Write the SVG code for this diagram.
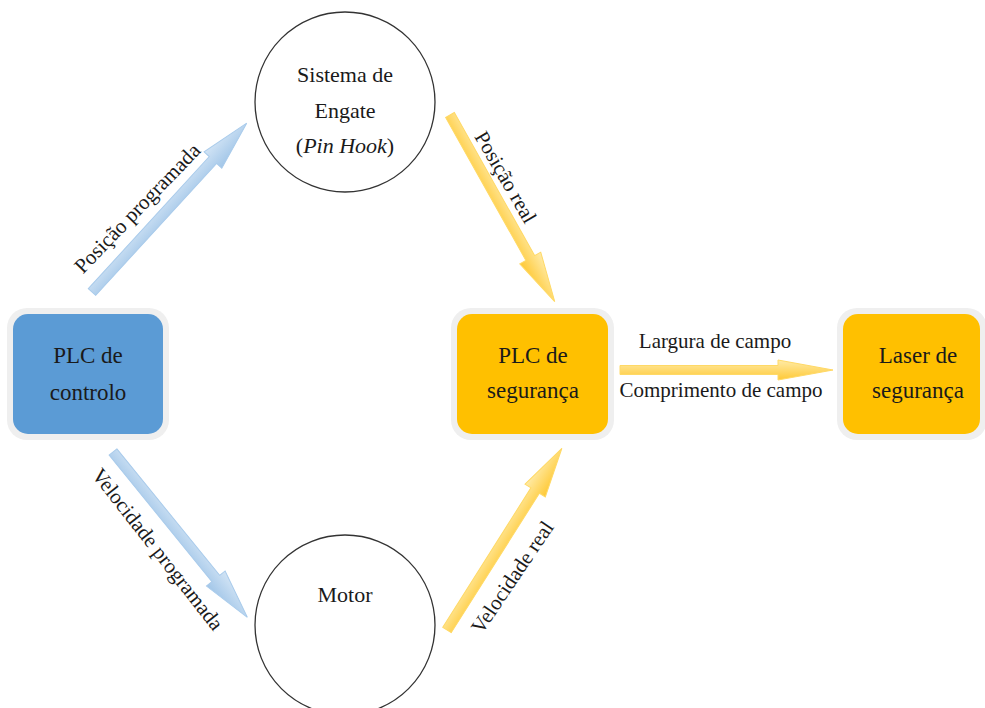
<svg xmlns="http://www.w3.org/2000/svg" width="985" height="708" viewBox="0 0 985 708">
<defs>
<linearGradient id="gb" x1="0" y1="0" x2="0" y2="1">
<stop offset="0" stop-color="#D2E4F5"/>
<stop offset="1" stop-color="#A2C6E8"/>
</linearGradient>
<linearGradient id="gy" x1="0" y1="0" x2="0" y2="1">
<stop offset="0" stop-color="#FFEBA8"/>
<stop offset="1" stop-color="#FFC935"/>
</linearGradient>
<style>
text{font-family:"Liberation Serif","Times New Roman",serif;fill:#1a1a1a;text-anchor:middle}
.nt{font-size:23px}
.ct{font-size:22px}
.lt{font-size:21px}
.frame{fill:#EFEFEF}
.blue{fill:#5B9BD5}
.yel{fill:#FFC000}
.circ{fill:#fff;stroke:#333;stroke-width:1.3}
.ab{fill:url(#gb);stroke:#A9CBEB;stroke-width:1}
.ay{fill:url(#gy);stroke:#FFD966;stroke-width:1}
</style>
</defs>
<rect width="985" height="708" fill="#fff"/>

<g id="connectors">
<g id="e-posprog">
<path class="ab" transform="translate(92,292) rotate(-47.5)" d="M0,-5 H179 V-12 L229,0 L179,12 V5 H0 Z"/>
<text class="lt" transform="translate(137,208) rotate(-46)" dy="0.35em">Posição programada</text>
</g>
<g id="e-posreal">
<path class="ay" transform="translate(450,115) rotate(60.7)" d="M0,-5 H164 V-12 L214,0 L164,12 V5 H0 Z"/>
<text class="lt" transform="translate(506,177) rotate(60)" dy="0.35em">Posição real</text>
</g>
<g id="e-velprog">
<path class="ab" transform="translate(113,452) rotate(50.9)" d="M0,-5 H163 V-12 L213,0 L163,12 V5 H0 Z"/>
<text class="lt" transform="translate(158,549) rotate(52)" dy="0.35em">Velocidade programada</text>
</g>
<g id="e-velreal">
<path class="ay" transform="translate(447,630) rotate(-57.7)" d="M0,-5 H165 V-12 L215,0 L165,12 V5 H0 Z"/>
<text class="lt" transform="translate(512,577) rotate(-56)" dy="0.35em">Velocidade real</text>
</g>
<g id="e-campo">
<path class="ay" transform="translate(620,370)" d="M0,-4.5 H158 V-10 L213,0 L158,10 V4.5 H0 Z"/>
<text class="lt" x="715" y="348">Largura de campo</text>
<text class="lt" x="721" y="397">Comprimento de campo</text>
</g>
</g>

<g id="n-plc-controlo">
<rect class="frame" x="7" y="308" width="162" height="132" rx="20"/>
<rect class="blue" x="13" y="314" width="150" height="120" rx="15"/>
<text class="nt" x="88" y="363">PLC de</text>
<text class="nt" x="88" y="400">controlo</text>
</g>

<g id="n-plc-seguranca">
<rect class="frame" x="451" y="308" width="163" height="132" rx="20"/>
<rect class="yel" x="457" y="314" width="151" height="120" rx="15"/>
<text class="nt" x="533" y="363">PLC de</text>
<text class="nt" x="533" y="398">segurança</text>
</g>

<g id="n-laser">
<rect class="frame" x="837" y="308" width="150" height="132" rx="20"/>
<rect class="yel" x="843" y="314" width="137" height="120" rx="15"/>
<text class="nt" x="918" y="363">Laser de</text>
<text class="nt" x="918" y="398">segurança</text>
</g>

<g id="n-engate">
<circle class="circ" cx="345" cy="102" r="90"/>
<text class="ct" x="345" y="82">Sistema de</text>
<text class="ct" x="345" y="118">Engate</text>
<text class="ct" x="345" y="153">(<tspan font-style="italic">Pin Hook</tspan>)</text>
</g>

<g id="n-motor">
<circle class="circ" cx="345" cy="625" r="90"/>
<text class="ct" x="345" y="602">Motor</text>
</g>
</svg>
